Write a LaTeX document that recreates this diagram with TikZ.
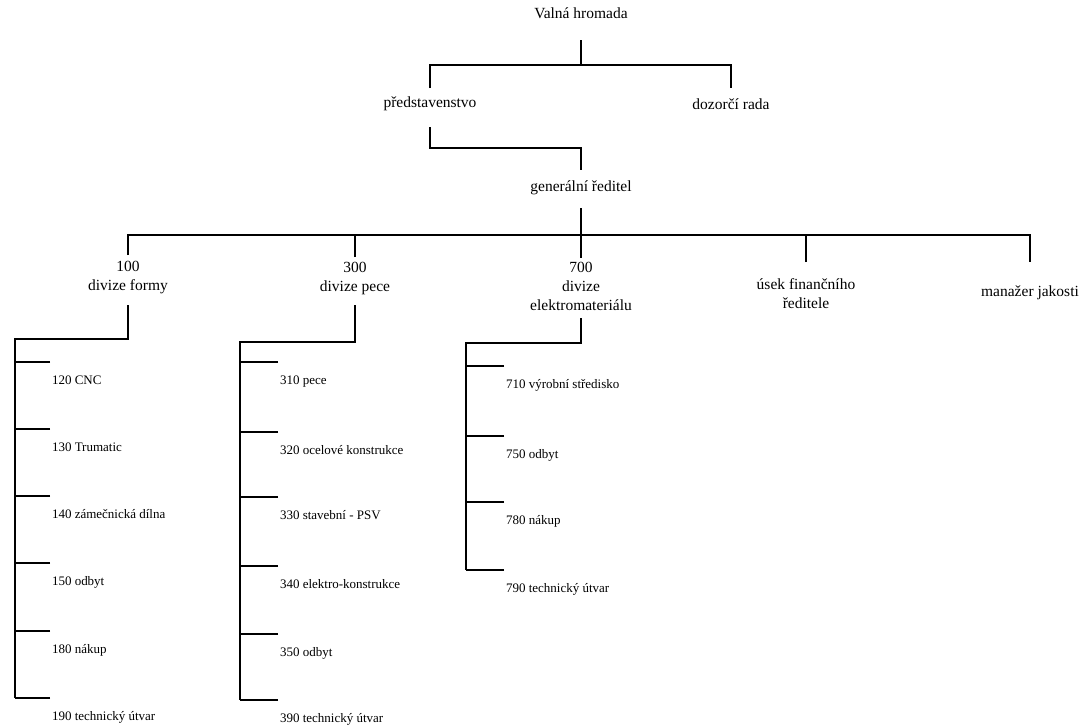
\documentclass[tikz,border=0pt]{standalone}
\usepackage{fontspec}
\setmainfont{Liberation Serif}

\tikzset{
	unit/.style={inner sep=0,outer sep=0,align=center,font=\fontsize{15.5}{19}\selectfont},
	leaf/.style={anchor=north west,inner xsep=2pt,inner ysep=0,outer sep=0,text height=22pt,text depth=3pt,font=\fontsize{13}{15}\selectfont},
	link/.style={draw=black,line width=1.2pt}
}

\begin{document}
\begin{tikzpicture}[x=1pt,y=-1pt]
	\useasboundingbox (0,0) rectangle (1082,728);
	% top levels
	\node[unit] (vh) at (581,13) {Valná hromada};
	\node[unit] (pred) at (430,104) {představenstvo};
	\node[unit] (dr) at (731,104) {dozorčí rada};
	\node[unit] (gr) at (581,188) {generální ředitel};
	\node[unit] (d100) at (128,278) {100\\divize formy};
	\node[unit] (d300) at (355,278) {300\\divize pece};
	\node[unit] (d700) at (581,286) {700\\divize\\elektromateriálu};
	\node[unit] (fin) at (806,294) {úsek finančního\\ředitele};
	\node[unit] (qm) at (1030,293) {manažer jakosti};
	\coordinate (j1) at (581,65);
	\coordinate (j2) at (581,148);
	\coordinate (j3) at (581,235);
	\draw[link] ([yshift=-27pt]vh.center) -- (j1);
	\draw[link] ([yshift=16pt]pred.center) |- (j1) -| ([yshift=16pt]dr.center);
	\draw[link] ([yshift=-23pt]pred.center) |- (j2) -- ([yshift=18pt]gr.center);
	\draw[link] ([yshift=-20pt]gr.center) -- ([yshift=28pt]d700.center);
	\draw[link] ([yshift=23pt]d100.center) |- (j3) -| ([yshift=31pt]qm.center);
	\draw[link] ([yshift=21pt]d300.center) -- (d300.center |- j3);
	\draw[link] ([yshift=32pt]fin.center) -- (fin.center |- j3);
	% divize formy
	\coordinate (c100) at (15,339);
	\node[leaf] (u120) at (50,362) {120 CNC};
	\node[leaf] (u130) at (50,429) {130 Trumatic};
	\node[leaf] (u140) at (50,496) {140 zámečnická dílna};
	\node[leaf] (u150) at (50,563) {150 odbyt};
	\node[leaf] (u180) at (50,631) {180 nákup};
	\node[leaf] (u190) at (50,698) {190 technický útvar};
	\draw[link] ([yshift=-27pt]d100.center) |- (c100) -- (c100 |- u190.north west);
	\draw[link] (u120.north west) -- (u120.north west -| c100);
	\draw[link] (u130.north west) -- (u130.north west -| c100);
	\draw[link] (u140.north west) -- (u140.north west -| c100);
	\draw[link] (u150.north west) -- (u150.north west -| c100);
	\draw[link] (u180.north west) -- (u180.north west -| c100);
	\draw[link] (u190.north west) -- (u190.north west -| c100);
	% divize pece
	\coordinate (c300) at (240,342);
	\node[leaf] (u310) at (278,362) {310 pece};
	\node[leaf] (u320) at (278,432) {320 ocelové konstrukce};
	\node[leaf] (u330) at (278,497) {330 stavební - PSV};
	\node[leaf] (u340) at (278,566) {340 elektro-konstrukce};
	\node[leaf] (u350) at (278,634) {350 odbyt};
	\node[leaf] (u390) at (278,700) {390 technický útvar};
	\draw[link] ([yshift=-27pt]d300.center) |- (c300) -- (c300 |- u390.north west);
	\draw[link] (u310.north west) -- (u310.north west -| c300);
	\draw[link] (u320.north west) -- (u320.north west -| c300);
	\draw[link] (u330.north west) -- (u330.north west -| c300);
	\draw[link] (u340.north west) -- (u340.north west -| c300);
	\draw[link] (u350.north west) -- (u350.north west -| c300);
	\draw[link] (u390.north west) -- (u390.north west -| c300);
	% divize elektromaterialu
	\coordinate (c700) at (466,343);
	\node[leaf] (u710) at (504,366) {710 výrobní středisko};
	\node[leaf] (u750) at (504,436) {750 odbyt};
	\node[leaf] (u780) at (504,502) {780 nákup};
	\node[leaf] (u790) at (504,570) {790 technický útvar};
	\draw[link] ([yshift=-32pt]d700.center) |- (c700) -- (c700 |- u790.north west);
	\draw[link] (u710.north west) -- (u710.north west -| c700);
	\draw[link] (u750.north west) -- (u750.north west -| c700);
	\draw[link] (u780.north west) -- (u780.north west -| c700);
	\draw[link] (u790.north west) -- (u790.north west -| c700);
\end{tikzpicture}
\end{document}
